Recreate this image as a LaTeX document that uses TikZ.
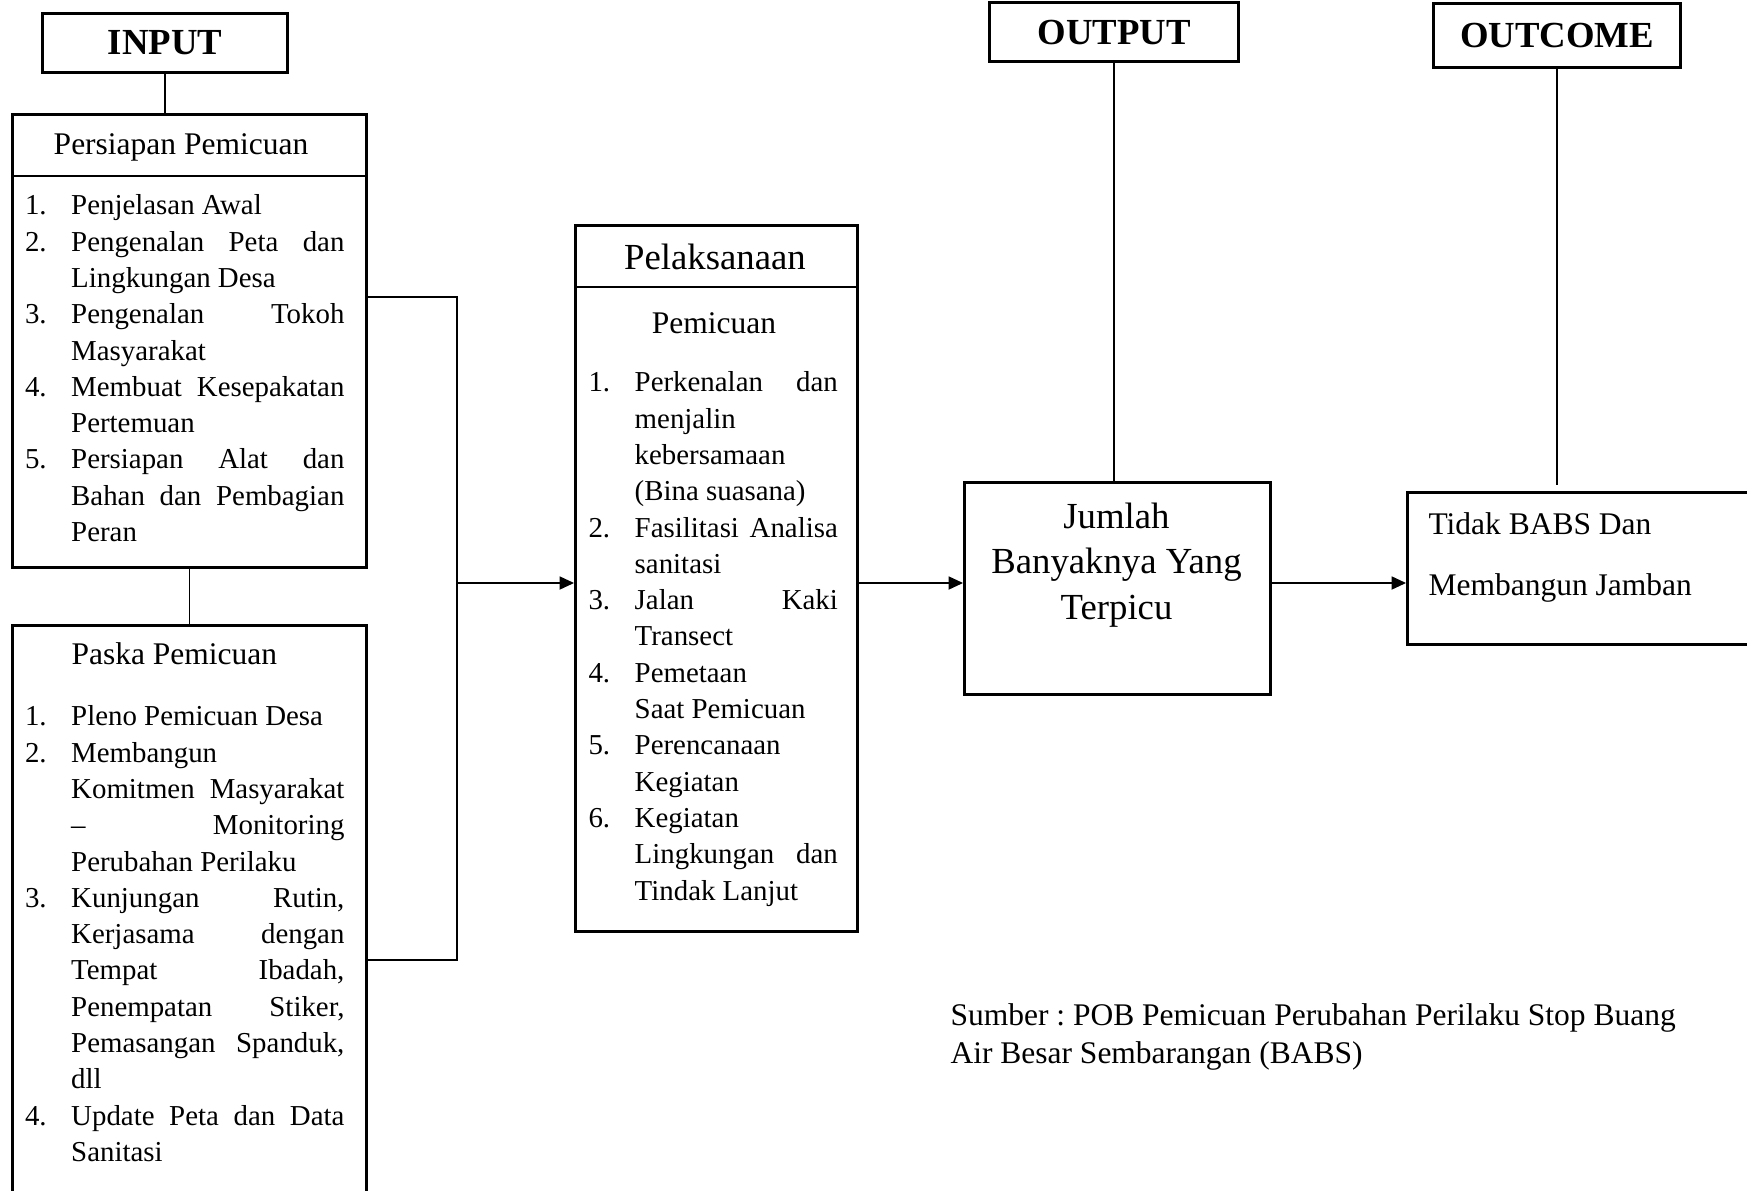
\documentclass[tikz,border=0pt]{standalone}
\usepackage{fontspec}
\setmainfont{Liberation Serif}
\usetikzlibrary{arrows.meta}
\frenchspacing

\newcommand\itm[2]{\par\noindent\hangindent=17.6pt\hangafter=1\makebox[17.6pt][l]{#1}#2\par}

\begin{document}
\begin{tikzpicture}[x=0.381pt,y=-0.381pt,
  box/.style={draw,line width=1.2pt,inner sep=0pt,anchor=north west},
  head/.style={font={\fontsize{14}{16}\selectfont\bfseries}},
  lst/.style={inner sep=0pt,anchor=north west,align=justify,font={\fontsize{11}{13.83}\selectfont\hyphenpenalty=10000}},
  txt/.style={inner sep=0pt,font={\fontsize{12}{14.5}\selectfont}},
  conn/.style={line width=0.55pt},
  arr/.style={line width=0.55pt,-{Triangle[length=5.5pt,width=5pt]}},
  sep/.style={line width=0.7pt}]
\useasboundingbox (0,0) rectangle (1747,1190);
\clip (0,0) rectangle (1747,1190);

\node[box,head,minimum width=93.3pt,minimum height=22.5pt] (inbox) at (41,12) {INPUT};
\node[box,head,minimum width=94.9pt,minimum height=22.5pt,text depth=-2pt] (outbox) at (988,1) {OUTPUT};
\node[box,head,minimum width=94.1pt,minimum height=24.4pt] (ocbox) at (1432,2) {OUTCOME};

\node[box,minimum width=134.9pt,minimum height=172.6pt] (prep) at (11,113) {};
\node[box,minimum width=134.9pt,minimum height=238.5pt] (paska) at (11,624) {};
\node[box,minimum width=107.4pt,minimum height=269pt] (pel) at (574,224) {};
\node[box,minimum width=116.6pt,minimum height=80.8pt] (jml) at (963,481) {};
\node[box,minimum width=152.4pt,minimum height=57.9pt] (tidak) at (1406,491) {};

\coordinate (prepsep) at (0,176);
\coordinate (pelsep) at (0,287);
\draw[sep] (prep.west |- prepsep) -- (prep.east |- prepsep);
\draw[sep] (pel.west |- pelsep) -- (pel.east |- pelsep);

\node[txt,anchor=base] (preptitle) at (181,154.5) {Persiapan Pemicuan};
\node[txt,anchor=base west] (paskatitle) at (71,664) {Paska Pemicuan};
\node[txt,anchor=base,font={\fontsize{14}{16}\selectfont}] (peltitle) at (715,270) {Pelaksanaan};
\node[txt,anchor=base] (pelsub) at (714,333) {Pemicuan};

\node[lst,text width=121.7pt] (preplist) at (24.5,178) {%
\itm{1.}{Penjelasan Awal}
\itm{2.}{Pengenalan Peta dan\linebreak Lingkungan Desa}
\itm{3.}{Pengenalan Tokoh\linebreak Masyarakat}
\itm{4.}{Membuat Kesepakatan\linebreak Pertemuan}
\itm{5.}{Persiapan Alat dan\linebreak Bahan dan Pembagian\linebreak Peran}};

\node[lst,text width=121.7pt] (paskalist) at (24.5,689) {%
\itm{1.}{Pleno Pemicuan Desa}
\itm{2.}{Membangun\newline Komitmen Masyarakat\linebreak -- Monitoring\linebreak Perubahan Perilaku}
\itm{3.}{Kunjungan Rutin,\linebreak Kerjasama dengan\linebreak Tempat Ibadah,\linebreak Penempatan Stiker,\linebreak Pemasangan Spanduk,\linebreak dll}
\itm{4.}{Update Peta dan Data\linebreak Sanitasi}};

\node[lst,text width=95pt] (pellist) at (588,355) {%
\itm{1.}{Perkenalan dan\linebreak menjalin\newline kebersamaan\newline (Bina suasana)}
\itm{2.}{Fasilitasi Analisa\linebreak sanitasi}
\itm{3.}{Jalan Kaki\linebreak Transect}
\itm{4.}{Pemetaan\newline Saat Pemicuan}
\itm{5.}{Perencanaan\newline Kegiatan}
\itm{6.}{Kegiatan\newline Lingkungan dan\linebreak Tindak Lanjut}};

\node[txt,anchor=north,align=center,font={\fontsize{14}{17.5}\selectfont}] (jmltext) at (1116.5,502) {Jumlah\\Banyaknya Yang\\Terpicu};
\node[txt,anchor=north west,align=left,font={\fontsize{12}{23.2}\selectfont}] (tidaktext) at (1428,512.5) {Tidak BABS Dan\\Membangun Jamban};
\node[txt,anchor=north west,align=left] (sumber) at (950,1003.5) {Sumber : POB Pemicuan Perubahan Perilaku Stop Buang\\Air Besar Sembarangan (BABS)};

\coordinate (jn) at (457,583);
\coordinate (uplevel) at (0,297);
\coordinate (lowlevel) at (0,960);
\draw[conn] (inbox.south) -- (inbox.south |- prep.north);
\draw[conn] (prep.south) -- (paska.north);
\draw[conn] (prep.east |- uplevel) -| (jn);
\draw[conn] (paska.east |- lowlevel) -| (jn);
\draw[arr] (jn) -- (pel.west |- jn);
\draw[arr] (pel.east |- jn) -- (jml.west |- jn);
\draw[arr] (jml.east |- jn) -- (tidak.west |- jn);
\draw[conn] (outbox.south) -- (outbox.south |- jml.north);
\draw[conn,shorten >=2.3pt] (ocbox.south) -- (ocbox.south |- tidak.north);
\end{tikzpicture}
\end{document}
